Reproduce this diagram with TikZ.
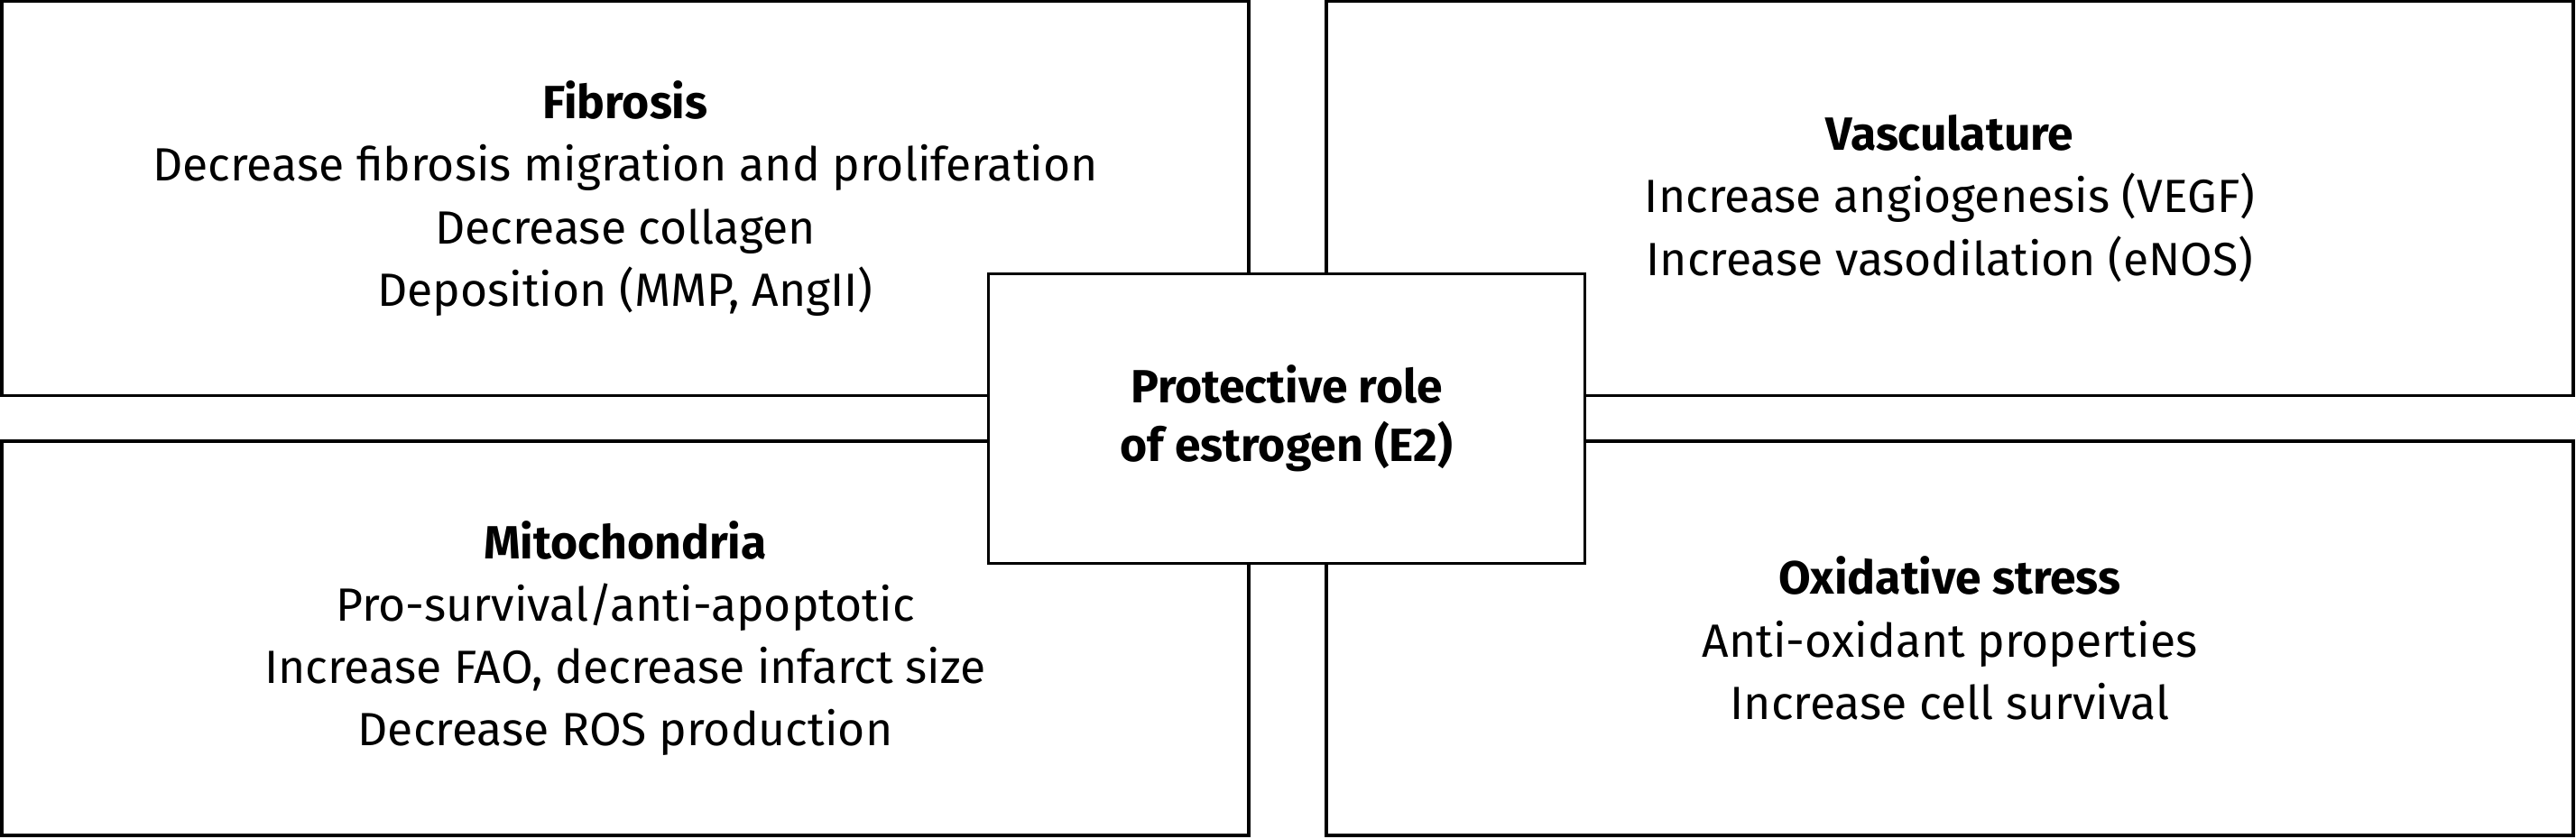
\documentclass[tikz,border=0pt]{standalone}
\usepackage{fontspec}
\setmainfont{Fira Sans}
\usepackage{tikz}
\usetikzlibrary{positioning}

\begin{document}
\begin{tikzpicture}[thick]
\tikzstyle{field}=[draw,rectangle,line width=0.9pt,align=center,inner sep=0pt,minimum width=13.82cm,minimum height=4.37cm,font=\fontsize{14.7}{19.7}\selectfont]
\tikzstyle{hub}=[field,fill=white,minimum width=6.61cm,minimum height=3.21cm,font=\bfseries\fontsize{14.7}{18.6}\selectfont]
\useasboundingbox (0,0) rectangle (28.55,-9.29);

\node [field] (fib) at (6.93,-2.2) {\textbf{Fibrosis}\\Decrease fibrosis migration and proliferation\\Decrease collagen\\Deposition (MMP, AngII)};
\node [field] (vasc) at (21.61,-2.2) {\textbf{Vasculature}\\Increase angiogenesis (VEGF)\\Increase vasodilation (eNOS)};
\node [field] (mito) at (6.93,-7.075) {\textbf{Mitochondria}\\Pro-survival/anti-apoptotic\\Increase FAO, decrease infarct size\\Decrease ROS production};
\node [field] (oxid) at (21.61,-7.075) {\textbf{Oxidative stress}\\Anti-oxidant properties\\Increase cell survival};

% centre box sits on top of the four corners
\node [hub] (e2) at (14.26,-4.64) {Protective role\\of estrogen (E2)};
\end{tikzpicture}
\end{document}
